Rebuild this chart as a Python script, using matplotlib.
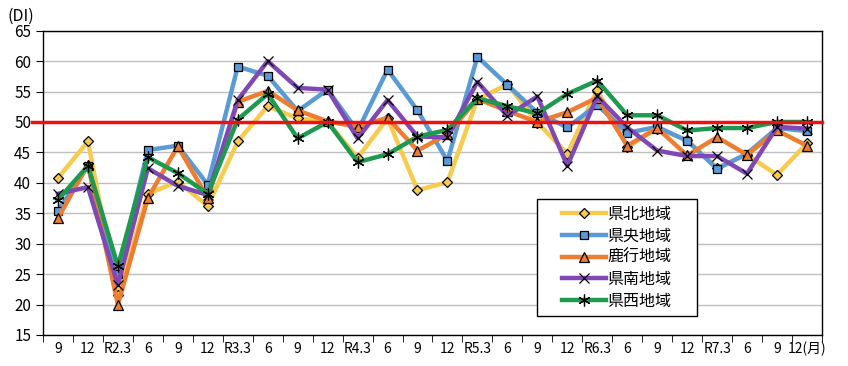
import matplotlib
matplotlib.use("Agg")
import matplotlib.pyplot as plt
from matplotlib.patches import Rectangle

plt.rcParams['font.family'] = ['Noto Sans CJK JP', 'DejaVu Sans']

# x axis categories (survey months)
months = ['9', '12', 'R2.3', '6', '9', '12', 'R3.3', '6', '9', '12', 'R4.3', '6', '9',
          '12', 'R5.3', '6', '9', '12', 'R6.3', '6', '9', '12', 'R7.3', '6', '9', '12(月)']

# DI by region
kenpoku = [40.8, 46.8, 21.5, 38.2, 40.2, 36.2, 46.8, 52.6, 50.6, 50.0, 44.1, 50.6, 38.8,
           40.1, 53.7, 56.2, 49.9, 44.8, 55.3, 45.9, 48.9, 47.0, 42.5, 44.6, 41.3, 46.5]
kenou = [35.4, 42.8, 25.0, 45.4, 46.1, 39.7, 59.1, 57.6, 51.8, 55.3, 48.5, 58.6, 51.9,
         43.6, 60.7, 56.1, 51.5, 49.1, 52.8, 48.2, 49.2, 46.9, 42.3, 44.8, 49.0, 48.5]
rokko = [34.2, 43.0, 20.0, 37.5, 46.0, 37.5, 53.3, 55.1, 51.9, 50.1, 49.2, 50.7, 45.3,
         48.0, 53.8, 51.8, 50.0, 51.6, 54.0, 46.1, 49.0, 44.5, 47.5, 44.6, 48.6, 46.1]
kennan = [38.2, 39.3, 23.2, 42.4, 39.5, 38.0, 53.6, 60.0, 55.6, 55.3, 47.3, 53.6, 47.6,
          47.5, 56.6, 51.0, 54.2, 42.8, 54.2, 49.1, 45.3, 44.4, 44.4, 41.5, 49.2, 48.9]
kensei = [37.2, 42.8, 26.3, 44.2, 41.6, 38.2, 50.4, 54.6, 47.3, 50.0, 43.4, 44.7, 47.6,
          48.7, 53.9, 52.6, 51.4, 54.6, 56.8, 51.1, 51.1, 48.6, 49.0, 49.0, 50.0, 50.0]

series = [
    ('県北地域', kenpoku, '#F7CB4D', 'D', 5.5),
    ('県央地域', kenou, '#5B9BD5', 's', 6),
    ('鹿行地域', rokko, '#ED7D31', '^', 6.5),
    ('県南地域', kennan, '#7F48B5', 'x', 7.5),
    ('県西地域', kensei, '#1E9A50', (6, 2, 0), 8.5),
]

fig = plt.figure(figsize=(8.48, 3.66), dpi=100)
ax = fig.add_axes([0.0507, 0.0847, 0.9186, 0.8315])

x = list(range(len(months)))
for name, vals, col, mk, ms in series:
    ax.plot(x, vals, color=col, lw=3.2, marker=mk, markersize=ms,
            markerfacecolor=col, markeredgecolor='black', markeredgewidth=0.9,
            label=name, zorder=3)

# 50 reference line
ax.plot([-0.87, 25.5], [50, 50], color='#EE1111', lw=2.5, clip_on=False, zorder=4)

ax.set_xlim(-0.5, len(months) - 0.5)
ax.set_ylim(15, 65)
ax.set_yticks(range(15, 66, 5))
ax.yaxis.grid(True, color='#BFBFBF', lw=1)
ax.set_axisbelow(True)

ax.set_xticks(x)
ax.set_xticklabels(months, fontsize=10)
ax.set_xticks([i - 0.5 for i in range(len(months) + 1)], minor=True)
ax.tick_params(axis='x', which='major', length=0, pad=5)
ax.tick_params(axis='x', which='minor', length=5, direction='out', color='black')
ax.tick_params(axis='y', labelsize=11, length=5, direction='out')
for sp in ax.spines.values():
    sp.set_color('black')
    sp.set_linewidth(1)

fig.text(0.009, 0.955, '(DI)', fontsize=11.5, ha='left', va='center')

# legend box (wide frame, entries centred inside)
ax.add_patch(Rectangle((0.634, 0.062), 0.205, 0.384, transform=ax.transAxes,
                       facecolor='white', edgecolor='black', lw=1, zorder=5))
leg = ax.legend(loc='center', bbox_to_anchor=(0.736, 0.254), fontsize=11.5,
                frameon=False, handlelength=2.8, handletextpad=0.05,
                labelspacing=0.3, borderpad=0.2)
leg.set_zorder(6)

plt.savefig("out.png", dpi=100)
